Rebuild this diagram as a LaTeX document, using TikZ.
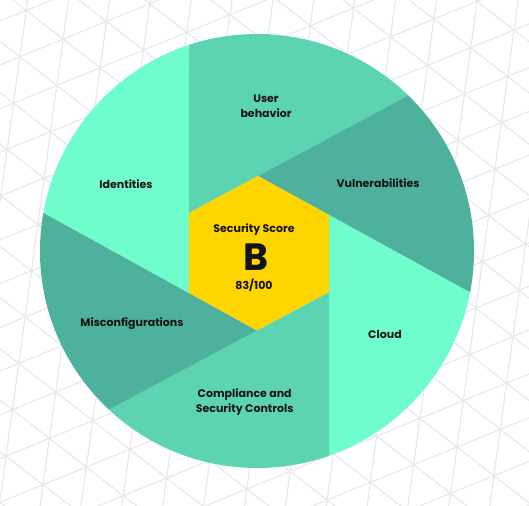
\documentclass[tikz,border=0pt]{standalone}
\usepackage{fontspec}
\setmainfont{Poppins}
\usetikzlibrary{calc}
\definecolor{mintlight}{HTML}{6FFDCB}
\definecolor{mintmid}{HTML}{5CD4B2}
\definecolor{mintdark}{HTML}{4DB19D}
\definecolor{scoregold}{HTML}{FFD500}
\definecolor{gridgray}{HTML}{E8E8E8}
\definecolor{inkblack}{HTML}{141414}
\tikzset{
  area/.style={font=\bfseries\fontsize{11}{15}\selectfont, text=inkblack, align=center, inner sep=0pt},
  grade/.style={font=\bfseries\fontsize{38}{38}\selectfont, text=inkblack, inner sep=0pt},
}

\begin{document}
\begin{tikzpicture}[x=1pt,y=-1pt]
      \useasboundingbox (0,0) rectangle (529,505);
      \coordinate (O) at (257,251);
      % hexagon corners
      \coordinate (T) at (258,176);
      \coordinate (UR) at (329,215);
      \coordinate (LR) at (329,292);
      \coordinate (B) at (257,330.5);
      \coordinate (LL) at (189,293);
      \coordinate (UL) at (189,213);

      % triangle lattice behind
      \begin{scope}
        \clip (0,0) rectangle (529,505);
        \foreach \ang in {22.2,82.2,142.2}
        {
          \foreach \k in {-16,...,16}
          {
            \draw [gridgray, line width=1.2pt, shift={(463.3,400.7)}, rotate=\ang] (-900,\k*40.5) -- (900,\k*40.5);
          }
        }
      \end{scope}

      % shutter blades
      \begin{scope}
        \clip (O) circle (217);
        \foreach \prev / \cur / \next / \col in
        {LL/UL/T/mintmid,
          UL/T/UR/mintdark,
          T/UR/LR/mintlight,
          UR/LR/B/mintmid,
          LR/B/LL/mintdark,
          B/LL/UL/mintlight}
        {
          \fill [fill=\col] (\cur) -- ($(\prev)!6!(\cur)$) -- ($(\cur)!6!(\next)$) -- (\next) -- cycle;
        }
      \end{scope}
      \fill [scoregold] (T) -- (UR) -- (LR) -- (B) -- (LL) -- (UL) -- cycle;

      \node [area] (user) at (266,106.5) {User\\behavior};
      \node [area] (vuln) at (378,182.7) {Vulnerabilities};
      \node [area] (ident) at (126,183.7) {Identities};
      \node [area] (misc) at (132,323.7) {Misconfigurations};
      \node [area] (compl) at (244.7,402.5) {Compliance and\\Security Controls};
      \node [area] (cloud) at (385,334.3) {Cloud};
      \node [area] (title) at (254,229.3) {Security Score};
      \node [grade] (mark) at (255.7,256.7) {B};
      \node [area] (points) at (254,285) {83/100};
\end{tikzpicture}
\end{document}
